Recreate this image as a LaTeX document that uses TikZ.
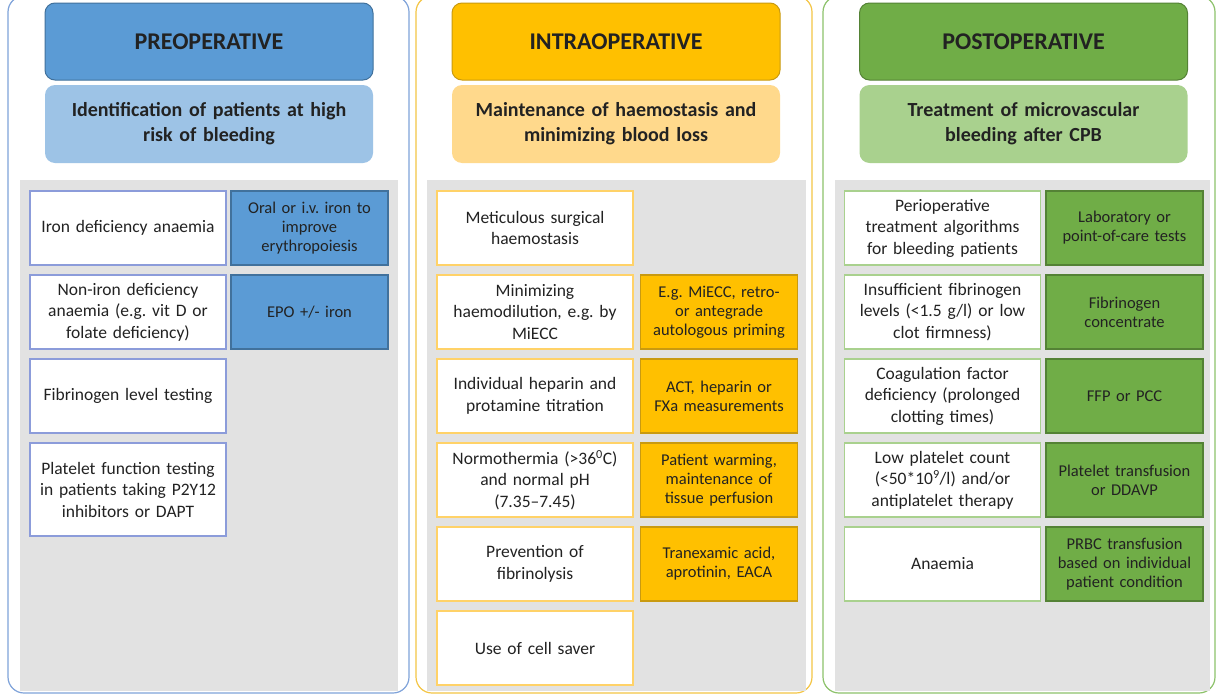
\documentclass[tikz,border=0pt]{standalone}
\usepackage{fontspec}
\setmainfont{Carlito}
\frenchspacing

\definecolor{panelgray}{HTML}{E2E2E2}
\definecolor{txtc}{HTML}{222222}
\definecolor{preD}{HTML}{5B9BD5}
\definecolor{preL}{HTML}{9DC3E6}
\definecolor{preE}{HTML}{41719C}
\definecolor{preB}{HTML}{8C9CDA}
\definecolor{preF}{HTML}{7FA3DA}
\definecolor{intD}{HTML}{FFC000}
\definecolor{intL}{HTML}{FFD98C}
\definecolor{intE}{HTML}{C99A10}
\definecolor{intB}{HTML}{FFD268}
\definecolor{intF}{HTML}{F4C545}
\definecolor{posD}{HTML}{70AD47}
\definecolor{posL}{HTML}{A9D18E}
\definecolor{posE}{HTML}{548235}
\definecolor{posB}{HTML}{A9D18E}
\definecolor{posF}{HTML}{8DC26B}

\tikzset{
    frame/.style={rounded corners=16pt, line width=1.2pt},
    head/.style={rounded corners=10pt, line width=1pt, minimum width=328pt,
        minimum height=77pt, text=txtc,
        font=\fontsize{24}{28}\selectfont\bfseries},
    sub/.style={rounded corners=10pt, draw=none, minimum width=328pt,
        minimum height=78pt, text width=315pt, align=center, text=txtc,
        font=\fontsize{20}{25}\selectfont\bfseries},
    cond/.style={fill=white, line width=1.4pt, minimum width=196pt,
        minimum height=74pt, text width=186pt, inner xsep=2pt, align=center,
        text=txtc, font=\fontsize{17.5}{21.5}\selectfont},
    treat/.style={line width=1.2pt, minimum width=157pt, minimum height=74pt,
        text width=152pt, inner xsep=2pt, align=center, text=txtc,
        font=\fontsize{16.5}{19}\selectfont},
}

\begin{document}
\begin{tikzpicture}[x=1pt, y=-1pt]
    \useasboundingbox[fill=white] (0, 0) rectangle (1222, 696);

    % outer frames and grey panels
    \draw[frame, preF] (8, -4) rectangle (409, 693);
    \draw[frame, intF] (416, -4) rectangle (812, 693);
    \draw[frame, posF] (823, -4) rectangle (1215, 693);
    \fill[panelgray] (20, 180) rectangle (398, 691);
    \fill[panelgray] (427, 180) rectangle (806, 691);
    \fill[panelgray] (835, 180) rectangle (1210, 691);

    % headers
    \node[head, fill=preD, draw=preE] (preHead) at (209, 41.5) {PREOPERATIVE};
    \node[head, fill=intD, draw=intE] (intHead) at (616, 41.5) {INTRAOPERATIVE};
    \node[head, fill=posD, draw=posE] (posHead) at (1023.5, 41.5) {POSTOPERATIVE};

    \node[sub, fill=preL] (preAim) at (209, 124) {Identification of patients at high\\risk of bleeding};
    \node[sub, fill=intL] (intAim) at (616, 124) {Maintenance of haemostasis and\\minimizing blood loss};
    \node[sub, fill=posL] (posAim) at (1023.5, 124) {Treatment of microvascular\\bleeding after CPB};

    % preoperative
    \node[cond, draw=preB] (preC1) at (128, 228) {Iron deficiency anaemia};
    \node[cond, draw=preB] (preC2) at (128, 312) {Non-iron deficiency\\anaemia (e.g. vit D or\\folate deficiency)};
    \node[cond, draw=preB] (preC3) at (128, 396) {Fibrinogen level testing};
    \node[cond, draw=preB, minimum height=93pt] (preC4) at (128, 489.5) {Platelet function testing\\in patients taking P2Y12\\inhibitors or DAPT};
    \node[treat, fill=preD, draw=preE] (preT1) at (309.5, 228) {Oral or i.v. iron to\\improve\\erythropoiesis};
    \node[treat, fill=preD, draw=preE] (preT2) at (309.5, 312) {EPO +/- iron};

    % intraoperative
    \node[cond, draw=intB] (intC1) at (535, 228) {Meticulous surgical\\haemostasis};
    \node[cond, draw=intB] (intC2) at (535, 312) {Minimizing\\haemodilution, e.g. by\\MiECC};
    \node[cond, draw=intB] (intC3) at (535, 396) {Individual heparin and\\protamine titration};
    \node[cond, draw=intB] (intC4) at (535, 480) {Normothermia (>36\textsuperscript{0}C)\\and normal pH\\(7.35--7.45)};
    \node[cond, draw=intB] (intC5) at (535, 564) {Prevention of\\fibrinolysis};
    \node[cond, draw=intB] (intC6) at (535, 648) {Use of cell saver};
    \node[treat, fill=intD, draw=intE] (intT2) at (719, 312) {E.g. MiECC, retro-\\or antegrade\\autologous priming};
    \node[treat, fill=intD, draw=intE] (intT3) at (719, 396) {ACT, heparin or\\FXa measurements};
    \node[treat, fill=intD, draw=intE] (intT4) at (719, 480) {Patient warming,\\maintenance of\\tissue perfusion};
    \node[treat, fill=intD, draw=intE] (intT5) at (719, 564) {Tranexamic acid,\\aprotinin, EACA};

    % postoperative
    \node[cond, draw=posB] (posC1) at (942.5, 228) {Perioperative\\treatment algorithms\\for bleeding patients};
    \node[cond, draw=posB] (posC2) at (942.5, 312) {Insufficient fibrinogen\\levels (<1.5 g/l) or low\\clot firmness)};
    \node[cond, draw=posB] (posC3) at (942.5, 396) {Coagulation factor\\deficiency (prolonged\\clotting times)};
    \node[cond, draw=posB] (posC4) at (942.5, 480) {Low platelet count\\(<50*10\textsuperscript{9}/l) and/or\\antiplatelet therapy};
    \node[cond, draw=posB] (posC5) at (942.5, 564) {Anaemia};
    \node[treat, fill=posD, draw=posE] (posT1) at (1124.5, 228) {Laboratory or\\point-of-care tests};
    \node[treat, fill=posD, draw=posE] (posT2) at (1124.5, 312) {Fibrinogen\\concentrate};
    \node[treat, fill=posD, draw=posE] (posT3) at (1124.5, 396) {FFP or PCC};
    \node[treat, fill=posD, draw=posE] (posT4) at (1124.5, 480) {Platelet transfusion\\or DDAVP};
    \node[treat, fill=posD, draw=posE] (posT5) at (1124.5, 564) {PRBC transfusion\\based on individual\\patient condition};
\end{tikzpicture}
\end{document}
